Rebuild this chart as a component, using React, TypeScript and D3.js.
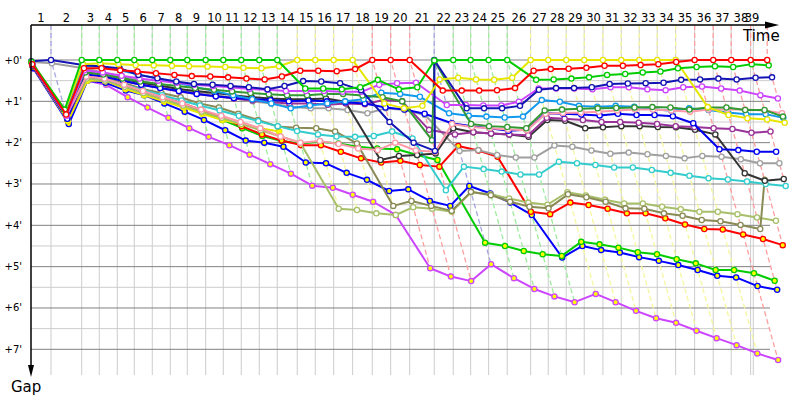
import React from "react";
import * as d3 from "d3";

// ---------- data ----------
// leader lap durations (seconds), laps 1..39
const leaderLapSeconds = [
  104.3, 160.2, 91.8, 93.9, 88.7, 93.9, 93.9, 88.7, 96.0, 91.8,
  93.9, 93.9, 93.9, 104.3, 93.9, 96.0, 99.1, 102.3, 96.0, 99.1,
  128.3, 99.1, 90.8, 93.9, 97.0, 122.1, 91.8, 93.9, 93.9, 97.6,
  95.5, 93.9, 93.9, 96.0, 99.1, 97.0, 93.9, 101.2, 86.6,
];
const raceEndSeconds = 3768.5;
const lapLabels = [
  "1","2","3","4","5","6","7","8","9","10","11","12","13","14","15","16","17","18","19","20",
  "21","22","23","24","25","26","27","28","29","30","31","32","33","34","35","36","37","38","39",
];
const gapTicks = [0, 1, 2, 3, 4, 5, 6, 7];
const gapTickLabels = ["+0'", "+1'", "+2'", "+3'", "+4'", "+5'", "+6'", "+7'"];
const halfTicks = [0.5, 1.5, 2.5, 3.5, 4.5, 5.5, 6.5];

// gaps in minutes, index = lap (0 = start)
const red1 = [0.1,1.32,0.2,0.2,0.25,0.28,0.32,0.36,0.39,0.4,0.42,0.45,0.47,0.4,0.26,0.26,0.27,0.22,0,0,0,0.74,0.74,0.74,0.73,0.68,0.26,0.22,0.21,0.19,0.14,0.14,0.12,0.1,0.05,0,0,0,0,0];
const green1 = [0.05,1.2,0,0,0,0,0,0,0,0,0,0,0,0,0.69,0.69,0.71,0.66,0.48,0.71,0.66,0.01,0,0,0,0,0.48,0.47,0.45,0.42,0.36,0.34,0.3,0.28,0.2,0.17,0.15,0.17,0.1,0.13];
const yellow1 = [0.05,1.22,0.1,0.08,0.1,0.12,0.13,0.14,0.15,0.16,0.17,0.19,0.2,0.15,0,0,0,0,1.05,1.17,1.11,0.47,0.43,0.47,0.48,0.43,0,0,0,0,0,0,0,0,0,1.14,1.33,1.41,1.44,1.52];
const blue1 = [0.03,0,0.12,0.16,0.2,0.36,0.44,0.52,0.58,0.6,0.63,0.66,0.71,0.63,0.51,0.52,0.56,0.73,1.5,2.0,2.2,0,1.17,1.17,1.17,1.11,0.72,0.68,0.68,0.66,0.58,0.57,0.56,0.55,0.48,0.47,0.45,0.47,0.43,0.42];
const violet1 = [0.1,1.35,0.25,0.3,0.38,0.45,0.5,0.55,0.6,0.63,0.66,0.7,0.72,0.75,0.75,0.75,0.77,0.77,0.6,0.56,0.55,1.09,1.09,1.1,1.1,1.01,0.69,0.69,0.69,0.71,0.66,0.66,0.71,0.73,0.66,0.64,0.69,0.74,0.85,0.93];
const forest = [0.08,1.3,0.3,0.35,0.45,0.52,0.58,0.63,0.68,0.72,0.76,0.8,0.83,0.85,0.85,0.82,0.82,0.86,0.9,1.0,1.94,0.02,1.55,1.6,1.62,1.65,1.22,1.2,1.18,1.17,1.16,1.15,1.14,1.15,1.2,1.15,1.15,1.21,1.21,1.37];
const pink = [0.1,1.35,0.4,0.45,0.6,0.75,0.9,1.05,1.2,1.35,1.5,1.65,1.85,2.0,1.96,2.03,2.14,2.18,2.0,2.19,2.22,1.55,1.62,1.65,1.68,1.7,1.3,1.28,1.27,1.25,1.22,1.2,1.2,1.22,1.25,1.2,1.2,1.2,1.22,1.29];
const skyblue = [0.05,1.25,0.15,0.15,0.25,0.35,0.45,0.55,0.65,0.75,0.85,0.95,1.05,1.17,1.1,1.05,1.0,0.95,0.79,0.82,0.89,1.29,1.35,1.37,1.39,1.37,0.97,1.01,1.11,1.13,1.11,1.13,1.19,1.23,1.17,1.21,1.27,1.31,1.31,1.4];
const purple = [0.1,1.4,0.35,0.4,0.5,0.6,0.68,0.76,0.82,0.88,0.93,0.98,1.02,1.05,1.05,1.08,1.05,1.07,0.97,1.0,1.69,1.8,1.75,1.78,1.8,1.82,1.4,1.42,1.45,1.5,1.5,1.52,1.55,1.6,1.62,1.65,1.67,1.76,1.73];
const blue2 = [0.12,1.42,0.35,0.4,0.5,0.6,0.68,0.75,0.82,0.88,0.92,0.95,0.97,1.0,0.98,1.0,1.02,1.05,1.15,1.2,1.3,1.53,1.6,1.65,1.71,1.69,1.29,1.3,1.32,1.34,1.3,1.33,1.33,1.36,1.53,2.16,2.18,2.22,2.22];
const darkgray = [0.15,1.38,0.3,0.35,0.45,0.55,0.62,0.7,0.75,0.8,0.85,0.9,0.93,0.95,0.95,0.93,1.01,2.42,2.32,2.3,2.26,1.65,1.75,1.78,1.8,1.86,1.45,1.47,1.65,1.63,1.6,1.6,1.62,1.63,1.69,1.8,2.74,2.92,2.88];
const gray = [0.05,0.08,0.2,0.3,0.4,0.5,0.6,0.7,0.78,0.85,0.92,1.0,1.05,1.13,1.17,1.17,1.21,1.29,1.17,1.21,1.33,2.2,2.18,2.3,2.36,2.36,2.07,2.1,2.19,2.27,2.24,2.28,2.32,2.38,2.32,2.34,2.4,2.5,2.5];
const cyan = [0.1,1.33,0.4,0.45,0.6,0.72,0.85,0.98,1.1,1.22,1.35,1.48,1.6,1.72,1.8,1.85,1.86,1.84,1.73,1.9,3.15,2.58,2.64,2.7,2.77,2.77,2.46,2.5,2.54,2.6,2.6,2.66,2.73,2.8,2.86,2.89,2.94,3.0,3.05];
const olive = [0.12,1.42,0.4,0.45,0.55,0.7,0.8,0.9,1.05,1.15,1.3,1.45,1.61,1.64,1.65,1.73,2.02,3.53,3.41,3.53,3.65,3.19,3.27,3.43,3.55,3.59,3.25,3.32,3.43,3.59,3.6,3.71,3.77,3.87,3.9,3.99,4.09,2.9];
const yellowgreen = [0.12,1.4,0.45,0.5,0.65,0.8,0.95,1.1,1.25,1.4,1.55,1.7,1.85,2.0,3.6,3.63,3.71,3.75,3.56,3.6,3.67,3.2,3.25,3.35,3.45,3.5,3.2,3.28,3.38,3.47,3.47,3.55,3.61,3.67,3.67,3.73,3.81,3.89];
const red2 = [0.15,1.45,0.45,0.5,0.62,0.75,0.9,1.05,1.2,1.4,1.6,1.8,1.95,2.06,2.06,2.22,2.38,2.48,2.44,2.54,2.58,2.08,2.19,2.34,3.67,3.73,3.45,3.51,3.6,3.71,3.71,3.83,3.98,4.09,4.1,4.22,4.33,4.48];
const green2 = [0.12,1.47,0.45,0.5,0.65,0.8,0.95,1.1,1.25,1.45,1.65,1.84,1.96,2.02,1.98,2.02,2.1,2.14,2.16,2.3,2.42,4.42,4.5,4.62,4.7,4.74,4.4,4.46,4.54,4.65,4.7,4.82,4.92,5.08,5.08,5.16,5.34];
const blue3 = [0.2,1.55,0.5,0.55,0.74,0.85,1.05,1.25,1.45,1.7,1.95,2.0,2.1,2.48,2.5,2.73,2.9,3.17,3.13,3.41,3.53,3.05,3.23,3.45,3.75,4.78,4.5,4.6,4.66,4.77,4.86,4.96,5.08,5.22,5.26,5.47,5.56];
const violet2 = [0.2,1.5,0.5,0.6,0.9,1.15,1.4,1.65,1.86,2.06,2.29,2.52,2.75,3.04,3.09,3.26,3.43,3.75,5.04,5.24,5.35,4.94,5.28,5.54,5.72,5.86,5.66,5.86,6.07,6.25,6.36,6.55,6.73,6.9,7.1,7.26];
const yellow2 = [0.15,1.48,0.5,0.5,0.7,0.85,1.0,1.15,1.3,1.45,1.55,1.65,1.73];

// ---------- styles ----------
const seriesTable = [
  { gaps: violet2, color: "#cc44ff", fill: "#ffff00" },
  { gaps: blue3, color: "#0000ff", fill: "#ffff00" },
  { gaps: green2, color: "#00cc00", fill: "#ffff00" },
  { gaps: red2, color: "#ff0000", fill: "#ffff00" },
  { gaps: yellow2, color: "#e6e600", fill: "#ffff00" },
  { gaps: yellowgreen, color: "#a8bf6a", fill: "#ffffff" },
  { gaps: olive, color: "#8a8a55", fill: "#ffffff" },
  { gaps: cyan, color: "#33cccc", fill: "#ffffff" },
  { gaps: gray, color: "#a0a0a0", fill: "#ffffff" },
  { gaps: darkgray, color: "#333333", fill: "#ffffff" },
  { gaps: purple, color: "#993399", fill: "#ffffff" },
  { gaps: blue2, color: "#0000ee", fill: "#ffffff" },
  { gaps: skyblue, color: "#1199ee", fill: "#ffffff" },
  { gaps: pink, color: "#ff99aa", fill: "#ffffff" },
  { gaps: forest, color: "#339933", fill: "#ffffff" },
  { gaps: violet1, color: "#cc44ff", fill: "#ffffff" },
  { gaps: blue1, color: "#1414b4", fill: "#ffffff" },
  { gaps: yellow1, color: "#e6e600", fill: "#ffffff" },
  { gaps: green1, color: "#00cc00", fill: "#ffffff" },
  { gaps: red1, color: "#ff0000", fill: "#ffffff" },
];

const FONT = "DejaVu Sans, Verdana, sans-serif";

export default function App() {
  const cum: number[] = [0];
  leaderLapSeconds.forEach((s) => cum.push(cum[cum.length - 1] + s));

  const x = d3.scaleLinear().domain([0, 3900]).range([31, 778.5]);
  const y = d3.scaleLinear().domain([0, 7]).range([60, 349.3]);
  const top = 25;
  const bottom = 375;
  const right = 770;

  const gridSec = [...cum.slice(0, 39), raceEndSeconds];
  const gridX = gridSec.map((s) => x(s));

  const pointsOf = (gaps: number[]) =>
    gaps.map((g, lap) => [x(cum[lap] + g * 60), y(g)] as [number, number]);
  const line = d3.line<[number, number]>();

  // leader & deepest gap per lap for the lap (dashed) lines
  const lapLines = d3.range(1, 40).map((lap) => {
    let leader = -1;
    let minG = Infinity;
    let maxG = 0;
    seriesTable.forEach((s, i) => {
      const g = s.gaps[lap];
      if (g === undefined) return;
      if (g < minG || (g === minG && i > leader)) {
        minG = g;
        leader = i;
      }
      if (g > maxG) maxG = g;
    });
    const col = d3.interpolateRgb(seriesTable[leader].color, "#ffffff")(0.62);
    const x0 = x(cum[lap]);
    const pts: [number, number][] = [
      [x0, top],
      [x0, y(0)],
      [x(cum[lap] + maxG * 60), y(maxG)],
    ];
    return { lap, col, d: line(pts) as string };
  });

  return (
    <svg
      width={800}
      height={400}
      style={{ position: "absolute", left: 0, top: 0, background: "#fff" }}
    >
      {/* vertical lap grid */}
      {gridX.slice(1).map((gx, i) => (
        <line key={"vg" + i} x1={gx} x2={gx} y1={top} y2={bottom} stroke="#cccccc" strokeWidth={1} />
      ))}
      {/* half-minute grid */}
      {halfTicks.map((t) => (
        <line key={"hh" + t} x1={31} x2={right} y1={y(t)} y2={y(t)} stroke="#cccccc" strokeWidth={1} />
      ))}
      {/* minute grid */}
      {gapTicks.map((t) => (
        <line key={"hm" + t} x1={31} x2={right} y1={y(t)} y2={y(t)} stroke="#808080" strokeWidth={1} />
      ))}

      {/* lap lines */}
      {lapLines.map((l) => (
        <path key={"ll" + l.lap} d={l.d} fill="none" stroke={l.col} strokeWidth={1.3} strokeDasharray="5,3" />
      ))}

      {/* series */}
      {seriesTable.map((s, i) => {
        const pts = pointsOf(s.gaps);
        return (
          <g key={"s" + i}>
            <path d={line(pts) as string} fill="none" stroke={s.color} strokeWidth={2} strokeLinejoin="round" />
            {pts.map((p, j) => (
              <circle key={j} cx={p[0]} cy={p[1]} r={2.6} fill={s.fill} stroke={s.color} strokeWidth={1.3} />
            ))}
          </g>
        );
      })}

      {/* axes */}
      <line x1={31} x2={766} y1={top} y2={top} stroke="#000" strokeWidth={1.5} />
      <polygon points={`765,21.5 779,25 765,28.5`} fill="#000" />
      <line x1={31} x2={31} y1={top} y2={366} stroke="#000" strokeWidth={1.5} />
      <polygon points={`28,365 34,365 31,377`} fill="#000" />

      {/* lap labels */}
      {lapLabels.map((lab, i) => (
        <text key={"lab" + i} x={(gridX[i] + gridX[i + 1]) / 2} y={22} textAnchor="middle" fontFamily={FONT} fontSize={11.5} fill="#000">
          {lab}
        </text>
      ))}
      {/* gap labels */}
      {gapTicks.map((t, i) => (
        <text key={"gl" + t} x={22} y={y(t)} dy="0.35em" textAnchor="end" fontFamily={FONT} fontSize={10} fill="#000">
          {gapTickLabels[i]}
        </text>
      ))}
      <text x={743} y={41} fontFamily={FONT} fontSize={15} fill="#000">Time</text>
      <text x={11} y={392} fontFamily={FONT} fontSize={15} fill="#000">Gap</text>
    </svg>
  );
}
